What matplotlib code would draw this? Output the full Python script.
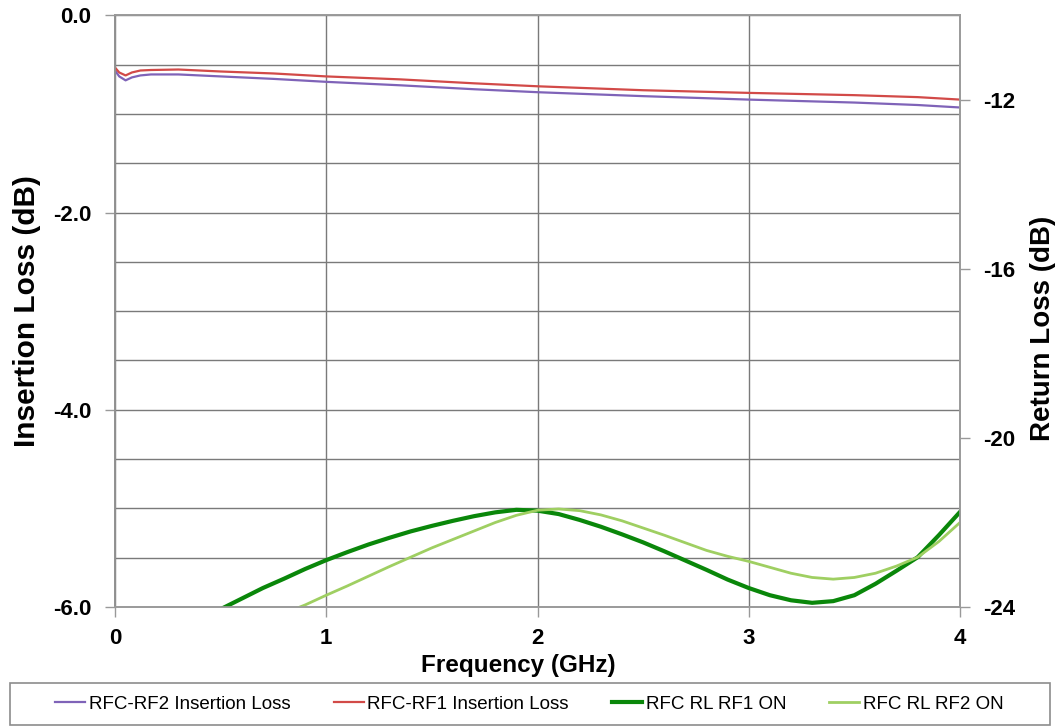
import matplotlib.pyplot as plt
from matplotlib.patches import Rectangle
import numpy as np

# insertion loss traces (left axis, dB)
il_freq = [0.0, 0.02, 0.05, 0.08, 0.12, 0.17, 0.3, 0.5, 0.75, 1.0, 1.35, 1.7, 2.0, 2.5, 3.0, 3.5, 3.8, 4.0]
il_rf2 = [-0.56, -0.62, -0.66, -0.63, -0.61, -0.60, -0.60, -0.62, -0.645, -0.675, -0.71, -0.75, -0.78, -0.82, -0.855, -0.885, -0.91, -0.935]
il_rf1 = [-0.53, -0.58, -0.61, -0.58, -0.56, -0.555, -0.55, -0.57, -0.59, -0.62, -0.65, -0.69, -0.72, -0.76, -0.787, -0.81, -0.83, -0.855]

# return loss traces (right axis, dB)
rl1_freq = [0.5, 0.6, 0.7, 0.8, 0.9, 1.0, 1.1, 1.2, 1.3, 1.4, 1.5, 1.6, 1.7, 1.8, 1.9, 2.0,
            2.1, 2.2, 2.3, 2.4, 2.5, 2.6, 2.7, 2.8, 2.9, 3.0, 3.1, 3.2, 3.3, 3.4, 3.5, 3.6,
            3.7, 3.8, 3.9, 4.0]
rl1_on = [-24.05, -23.8, -23.55, -23.33, -23.1, -22.89, -22.7, -22.52, -22.36, -22.21, -22.08,
          -21.96, -21.85, -21.76, -21.7, -21.72, -21.8, -21.94, -22.1, -22.28, -22.47, -22.68,
          -22.9, -23.12, -23.35, -23.55, -23.72, -23.84, -23.9, -23.86, -23.72, -23.45,
          -23.14, -22.82, -22.3, -21.75]
rl2_freq = [0.85, 0.9, 1.0, 1.1, 1.2, 1.3, 1.4, 1.5, 1.6, 1.7, 1.8, 1.9, 2.0, 2.1, 2.2, 2.3,
            2.4, 2.5, 2.6, 2.7, 2.8, 2.9, 3.0, 3.1, 3.2, 3.3, 3.4, 3.5, 3.6, 3.7, 3.8, 3.9, 4.0]
rl2_on = [-24.05, -23.95, -23.72, -23.5, -23.27, -23.04, -22.82, -22.6, -22.4, -22.2, -22.0,
          -21.83, -21.71, -21.68, -21.72, -21.82, -21.96, -22.13, -22.3, -22.48, -22.66, -22.8,
          -22.92, -23.06, -23.2, -23.3, -23.34, -23.3, -23.2, -23.03, -22.82, -22.45, -22.0]

labels = ['RFC-RF2 Insertion Loss', 'RFC-RF1 Insertion Loss', 'RFC RL RF1 ON', 'RFC RL RF2 ON']

plt.rcParams['font.family'] = ['Liberation Sans', 'DejaVu Sans']
plt.rcParams['font.weight'] = 'bold'
plt.rcParams['axes.labelweight'] = 'bold'
plt.rcParams['axes.unicode_minus'] = False

fig = plt.figure(figsize=(10.61, 7.27), dpi=100)
ax1 = fig.add_axes([0.1084, 0.165, 0.7964, 0.814])
ax2 = ax1.twinx()

l1, = ax1.plot(il_freq, il_rf2, color='#7f63b8', lw=1.6)
l2, = ax1.plot(il_freq, il_rf1, color='#d24a48', lw=1.6)
l3, = ax2.plot(rl1_freq, rl1_on, color='#0a870a', lw=3.0)
l4, = ax2.plot(rl2_freq, rl2_on, color='#9fcf62', lw=2.0)

ax1.set_xlim(0, 4)
ax1.set_ylim(-6, 0)
ax2.set_ylim(-24, -10)
ax1.set_xticks([0, 1, 2, 3, 4])
ax1.set_yticks([0, -2, -4, -6])
ax1.set_yticklabels(['0.0', '-2.0', '-4.0', '-6.0'])
ax1.set_yticks(np.arange(-6, 0.01, 0.5), minor=True)
ax2.set_yticks([-24, -20, -16, -12])

ax1.grid(True, which='both', color='#7a7a7a', lw=1.0)
ax1.tick_params(which='minor', length=0)
for ax in (ax1, ax2):
    ax.tick_params(which='major', labelsize=16, length=7, color='#999999', width=1)
    for s in ax.spines.values():
        s.set_color('#9a9a9a')
        s.set_linewidth(1.2)
ax1.spines['left'].set_color('#555555')
ax1.tick_params(axis='x', pad=8)
ax1.tick_params(axis='y', pad=10)
ax2.tick_params(axis='y', pad=10)

ax1.set_xlabel('Frequency (GHz)', fontsize=17.5, fontweight='bold')
ax1.set_ylabel('Insertion Loss (dB)', fontsize=21.5, fontweight='bold')
ax2.set_ylabel('Return Loss (dB)', fontsize=20, fontweight='bold')
ax1.xaxis.set_label_coords(0.477, -0.08)
ax1.yaxis.set_label_coords(-0.088, 0.5)
ax2.yaxis.set_label_coords(1.083, 0.471)

# legend box below the plot
fig.patches.append(Rectangle((10 / 1061, 2 / 727), 1040 / 1061, 42 / 727,
                             transform=fig.transFigure, fill=False,
                             edgecolor='#8c8c8c', lw=1.2))
fig.legend([l1, l2, l3, l4], labels, loc='center',
           bbox_to_anchor=(529.5 / 1061, 23 / 727), ncol=4, frameon=False,
           handlelength=1.6, handletextpad=0.2, columnspacing=2.3, borderaxespad=0,
           prop={'family': 'Liberation Sans', 'weight': 'normal', 'size': 13.5})

fig.savefig('out.png', dpi=100)
